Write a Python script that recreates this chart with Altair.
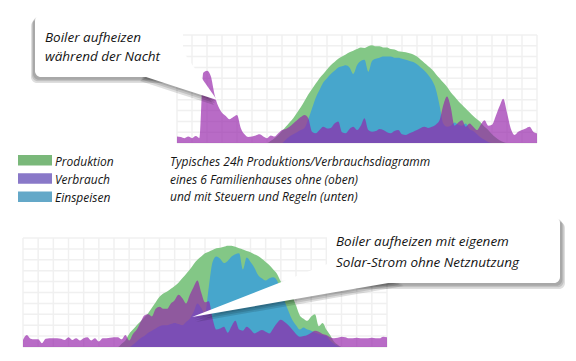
import altair as alt
import pandas as pd

# ---------------- data (hours 0..24 in quarter-hour steps) ----------------
stunden = [i * 0.25 for i in range(97)]

# top chart: ohne Steuern und Regeln
produktion_oben = [
    0, 0, 0, 0,  0, 0, 0, 0,  0, 0, 0, 0,  0, 0, 0, 0,  0, 0, 0, 0,  0, 0, 0, 0,
    0, 0.2, 0.45, 0.75,
    1.1, 1.5, 1.9, 2.3,
    2.8, 3.3, 3.9, 4.5,
    5.0, 5.5, 6.0, 6.4,
    6.8, 7.2, 7.5, 7.8,
    8.0, 8.2, 8.4, 8.55,
    8.7, 8.85, 8.8, 8.95,
    9.05, 8.95, 8.95, 8.85,
    8.85, 8.7, 8.65, 8.5,
    8.45, 8.4, 8.3, 8.2,
    8.0, 7.7, 7.4, 7.1,
    6.8, 6.4, 6.0, 5.6,
    5.2, 4.7, 4.3, 3.9,
    3.55, 3.2, 2.85, 2.5,
    2.2, 1.9, 1.5, 1.2,
    0.8, 0.5, 0.25, 0.1,
    0, 0, 0, 0,  0, 0, 0, 0,
    0,
]
einspeisen_oben = [
    0, 0, 0, 0,  0, 0, 0, 0,  0, 0, 0, 0,  0, 0, 0, 0,  0, 0, 0, 0,  0, 0, 0, 0,
    0, 0, 0, 0,
    0, 0.3, 0.6, 0.8,
    1.0, 1.2, 1.4, 2.2,
    3.2, 4.2, 4.9, 5.6,
    6.0, 6.4, 6.7, 7.0,
    7.1, 7.2, 7.0, 6.4,
    7.2, 7.6, 7.7, 6.6,
    7.6, 7.8, 7.9, 8.0,
    8.0, 8.0, 7.9, 7.9,
    7.8, 7.7, 7.6, 7.5,
    7.3, 7.0, 6.7, 6.3,
    5.8, 5.0, 3.5, 1.8,
    1.5, 1.6, 1.9, 1.7,
    1.6, 1.8, 1.3, 1.1,
    0.8, 0.5, 0.3, 0.1,
    0, 0, 0, 0,  0, 0, 0, 0,  0, 0, 0, 0,
    0,
]
verbrauch_oben = [
    0.6, 0.55, 0.45, 0.6,
    0.45, 0.65, 0.45, 6.5,
    6.7, 6.2, 4.5, 3.4,
    2.8, 2.5, 2.2, 2.4,
    2.6, 1.4, 0.8, 0.55,
    0.6, 0.7, 0.8, 0.6,
    0.45, 0.7, 0.6, 0.9,
    1.2, 1.3, 1.5, 1.8,
    2.1, 2.4, 2.6, 2.3,
    1.05, 0.9, 1.2, 1.5,
    1.35, 1.4, 1.8, 2.0,
    1.0, 0.9, 1.3, 1.5,
    1.2, 1.6, 2.3, 1.2,
    1.05, 1.1, 1.3, 1.2,
    1.0, 0.9, 1.1, 1.2,
    0.8, 0.75, 0.9, 1.05,
    1.2, 1.4, 1.5, 1.4,
    1.5, 1.7, 2.1, 3.5,
    4.3, 3.3, 1.6, 1.9,
    2.1, 1.5, 1.8, 1.5,
    1.2, 1.7, 2.1, 1.6,
    1.7, 2.5, 3.4, 4.1,
    2.8, 1.35, 0.75, 1.05,
    1.2, 1.35, 1.5, 1.05,
    0.9,
]

# bottom chart: mit Steuern und Regeln
produktion_unten = [
    0, 0, 0, 0,  0, 0, 0, 0,  0, 0, 0, 0,  0, 0, 0, 0,  0, 0, 0, 0,  0, 0, 0, 0,
    0, 0, 0.3, 0.6,
    1.2, 1.6, 2.0, 2.35,
    2.7, 3.1, 3.6, 4.1,
    4.6, 4.9, 5.1, 5.35,
    5.6, 5.9, 6.3, 6.7,
    7.1, 7.6, 8.0, 8.3,
    8.6, 8.75, 8.9, 9.05,
    9.1, 9.2, 9.3, 9.3,
    9.2, 9.05, 8.95, 8.8,
    8.7, 8.5, 8.35, 8.1,
    7.8, 7.5, 7.1, 6.7,
    6.0, 5.4, 5.2, 4.7,
    3.8, 2.9, 2.6, 2.4,
    2.8, 3.0, 1.9, 2.2,
    1.6, 1.1, 0.5, 0.2,
    0, 0, 0, 0,  0, 0, 0, 0,  0, 0, 0, 0,
    0,
]
einspeisen_unten = [
    0, 0, 0, 0,  0, 0, 0, 0,  0, 0, 0, 0,  0, 0, 0, 0,  0, 0, 0, 0,  0, 0, 0, 0,
    0, 0, 0, 0,
    0, 0.2, 0.5, 0.8,
    1.0, 1.3, 1.5, 1.7,
    1.9, 2.0, 2.0, 2.1,
    2.2, 2.1, 2.0, 2.3,
    2.6, 3.2, 4.0, 3.6,
    3.0, 5.5, 7.8, 8.3,
    8.1, 7.7, 7.9, 8.3,
    8.5, 8.6, 7.1, 8.2,
    7.8, 7.3, 6.6, 6.3,
    6.1, 6.3, 6.4, 6.1,
    5.2, 4.2, 3.3, 2.5,
    2.0, 1.6, 1.8, 1.6,
    1.5, 1.3, 1.2, 1.1,
    1.0, 0.6, 0.3, 0.1,
    0, 0, 0, 0,  0, 0, 0, 0,  0, 0, 0, 0,
    0,
]
verbrauch_unten = [
    0.65, 1.1, 0.75, 0.7,
    0.7, 0.35, 0.75, 0.8,
    0.8, 0.8, 0.75, 0.65,
    0.9, 0.65, 0.8, 0.6,
    0.8, 0.9, 0.6, 0.8,
    0.5, 0.8, 0.8, 0.85,
    0.9, 0.9, 0.7, 1.1,
    0.6, 1.2, 1.6, 2.3,
    2.9, 3.0, 2.8, 3.5,
    3.7, 3.5, 3.5, 4.0,
    4.3, 4.8, 4.5, 4.0,
    4.8, 5.5, 6.1, 5.0,
    4.1, 4.2, 2.6, 1.6,
    1.7, 1.85, 1.3, 1.9,
    2.4, 1.6, 1.5, 1.85,
    1.6, 1.25, 1.4, 1.55,
    1.4, 1.25, 1.7, 2.2,
    2.5, 2.3, 2.0, 1.6,
    1.2, 0.95, 1.0, 1.1,
    1.3, 1.5, 1.4, 1.2,
    1.1, 0.9, 0.8, 0.85,
    0.95, 0.9, 0.8, 0.8,
    0.85, 0.8, 0.8, 0.8,
    0.85, 0.8, 0.8, 0.95,
    0.9,
]

grid_stunden = list(range(25))
grid_werte = list(range(11))

legende_namen = ["Produktion", "Verbrauch", "Einspeisen"]
legende_farben = ["#7ab87a", "#8978c8", "#64a8c8"]
beschreibung = [
    "Typisches 24h Produktions/Verbrauchsdiagramm",
    "eines 6 Familienhauses ohne (oben)",
    "und mit Steuern und Regeln (unten)",
]
notiz_oben = ["Boiler aufheizen", "während der Nacht"]
notiz_unten = ["Boiler aufheizen mit eigenem", "Solar-Strom ohne Netznutzung"]

# ---------------- styling ----------------
FONT = "Open Sans"
GRUEN = "#83c786"
BLAU = "#47a6cc"
LILA = "#9522aa"
GRID = "#f0f0f0"
TEXT = "#151515"


def panel(prod, eins, verb, x_range, y_range):
    xs = alt.Scale(domain=[0, 24], range=x_range, nice=False)
    ys = alt.Scale(domain=[0, 10], range=y_range, nice=False, zero=True)
    gv = pd.DataFrame({"stunde": grid_stunden, "lo": 0, "hi": 10})
    gh = pd.DataFrame({"wert": grid_werte, "a": 0, "b": 24})
    grid_v = alt.Chart(gv).mark_rule(color=GRID, strokeWidth=1.5).encode(
        x=alt.X("stunde:Q", scale=xs, axis=None),
        y=alt.Y("lo:Q", scale=ys, axis=None),
        y2="hi:Q",
    )
    grid_h = alt.Chart(gh).mark_rule(color=GRID, strokeWidth=1.5).encode(
        x=alt.X("a:Q", scale=xs, axis=None),
        x2="b:Q",
        y=alt.Y("wert:Q", scale=ys, axis=None),
    )

    def area(values, color, opacity):
        df = pd.DataFrame({"stunde": stunden, "wert": values})
        return alt.Chart(df).mark_area(
            color=color, opacity=opacity, interpolate="monotone"
        ).encode(
            x=alt.X("stunde:Q", scale=xs, axis=None),
            y=alt.Y("wert:Q", scale=ys, axis=None),
        )

    return alt.layer(
        grid_v, grid_h,
        area(prod, GRUEN, 1.0),
        area(eins, BLAU, 1.0),
        area(verb, LILA, 0.67),
    )


oben = panel(produktion_oben, einspeisen_oben, verbrauch_oben, [169, 529], [135, 27])
unten = panel(produktion_unten, einspeisen_unten, verbrauch_unten, [15, 379], [339, 230])

one = pd.DataFrame({"a": [0]})


def rect(x0, y0, x1, y1, color, opacity=1.0, radius=6):
    return alt.Chart(one).mark_rect(
        color=color, opacity=opacity, cornerRadius=radius
    ).encode(x=alt.value(x0), x2=alt.value(x1), y=alt.value(y0), y2=alt.value(y1))


def triangle(pts, color, opacity=1.0):
    pts = sorted(pts)
    (x1, y1), (x2, y2), (x3, y3) = pts
    ym = y1 + (y3 - y1) * (x2 - x1) / (x3 - x1)
    df = pd.DataFrame({
        "px": [x1, x2, x3],
        "top": [y1, min(y2, ym), y3],
        "bot": [y1, max(y2, ym), y3],
    })
    return alt.Chart(df).mark_area(
        color=color, opacity=opacity, interpolate="linear", orient="vertical"
    ).encode(
        x=alt.X("px:Q", scale=None),
        y=alt.Y("top:Q", scale=None),
        y2="bot:Q",
    )


def text(s, x, y, size):
    return alt.Chart(one).mark_text(
        text=s, font=FONT, fontStyle="italic", fontSize=size, color=TEXT,
        align="left", baseline="alphabetic",
    ).encode(x=alt.value(x), y=alt.value(y))


def callout(box, tri, shadow_dx, shadow_dy, lines, tx, ty, gap, size):
    x0, y0, x1, y1 = box
    layers = []
    for k in (3, 2, 1):
        f = k / 3.0
        dx, dy = shadow_dx * f, shadow_dy * f
        layers.append(rect(x0 + dx - 1, y0 + dy, x1 + dx + 1, y1 + dy + 1, "#000000", 0.13))
        layers.append(triangle([(px + dx, py + dy) for px, py in tri], "#000000", 0.13))
    layers.append(triangle(tri, "#ffffff"))
    layers.append(rect(x0, y0, x1, y1, "#ffffff"))
    for i, s in enumerate(lines):
        layers.append(text(s, tx, ty + i * gap, size))
    return layers


ann = []
ann += callout((27, 7, 175, 69), [(135, 68), (174, 42), (209, 92)], -3, 5,
               notiz_oben, 37, 34, 19, 13.5)
ann += callout((319, 209, 552, 275), [(184, 309), (322, 255), (392, 273)], 4, 5,
               notiz_unten, 328, 238, 21, 13.5)

legend = []
for i, (name, farbe) in enumerate(zip(legende_namen, legende_farben)):
    y0 = 147 + i * 18.2
    legend.append(rect(10, y0, 44, y0 + 10.5, farbe, 1.0, 0))
    legend.append(text(name, 47, y0 + 11, 12))
for i, s in enumerate(beschreibung):
    legend.append(text(s, 162, 158 + i * 17.5, 12))

chart = alt.layer(oben, unten, *legend, *ann).resolve_scale(
    x="independent", y="independent"
).properties(
    width=560, height=345, padding=0, background="white"
).configure_view(strokeWidth=0)

chart.save("out.html", embed_options={"renderer": "svg", "actions": False})
